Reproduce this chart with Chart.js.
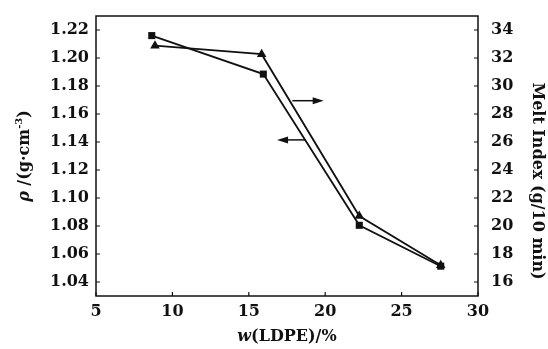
<!DOCTYPE html>
<html>
<head>
<meta charset="utf-8">
<script src="https://cdn.jsdelivr.net/npm/chart.js@4/dist/chart.umd.min.js"></script>
<style>
  html, body { margin: 0; padding: 0; background: #fff; }
  canvas { display: block; }
</style>
</head>
<body>
<canvas id="chart" width="548" height="349"></canvas>
<script>
// Data
const densityX = [8.65, 15.95, 22.23, 27.56];
const densityY = [1.216, 1.1885, 1.0805, 1.0513];
const meltX = [8.86, 15.84, 22.23, 27.56];
const meltY = [32.88, 32.27, 20.71, 17.2];

const xTicks = [5, 10, 15, 20, 25, 30];
const leftTicks = [1.04, 1.06, 1.08, 1.10, 1.12, 1.14, 1.16, 1.18, 1.20, 1.22];
const rightTicks = [16, 18, 20, 22, 24, 26, 28, 30, 32, 34];

// arrows pointing to the axis each curve belongs to (in left-axis units)
const arrows = [
    { from: 17.85, to: 19.9, y: 1.1695 },
    { from: 18.7, to: 16.85, y: 1.1415 }
];

const FONT = 'DejaVu Serif';
const INK = '#111';

function toPoints(xs, ys) {
    return xs.map((x, i) => ({ x: x, y: ys[i] }));
}

// Frame, inward ticks, arrows and axis titles
const decorPlugin = {
    id: 'decor',
    afterDraw(chart) {
        const ctx = chart.ctx;
        const area = chart.chartArea;
        const sx = chart.scales.x;
        const sl = chart.scales.yL;
        const sr = chart.scales.yR;
        ctx.save();
        ctx.strokeStyle = INK;
        ctx.fillStyle = INK;

        // box
        ctx.lineWidth = 1.5;
        ctx.strokeRect(area.left, area.top, area.right - area.left, area.bottom - area.top);

        // ticks inside
        ctx.lineWidth = 1.2;
        ctx.beginPath();
        xTicks.forEach(v => {
            const px = sx.getPixelForValue(v);
            ctx.moveTo(px, area.bottom);
            ctx.lineTo(px, area.bottom - 4);
        });
        leftTicks.forEach(v => {
            const py = sl.getPixelForValue(v);
            ctx.moveTo(area.left, py);
            ctx.lineTo(area.left + 4, py);
        });
        rightTicks.forEach(v => {
            const py = sr.getPixelForValue(v);
            ctx.moveTo(area.right, py);
            ctx.lineTo(area.right - 4, py);
        });
        ctx.stroke();

        // arrows
        arrows.forEach(a => {
            const x0 = sx.getPixelForValue(a.from);
            const x1 = sx.getPixelForValue(a.to);
            const y = sl.getPixelForValue(a.y);
            const dir = x1 > x0 ? 1 : -1;
            ctx.lineWidth = 1.5;
            ctx.beginPath();
            ctx.moveTo(x0, y);
            ctx.lineTo(x1 - dir * 8, y);
            ctx.stroke();
            ctx.beginPath();
            ctx.moveTo(x1, y);
            ctx.lineTo(x1 - dir * 11, y - 3.5);
            ctx.lineTo(x1 - dir * 11, y + 3.5);
            ctx.closePath();
            ctx.fill();
        });

        // x title
        const bold = 'bold 16px "' + FONT + '"';
        const boldIt = 'italic bold 16px "' + FONT + '"';
        ctx.textBaseline = 'middle';
        ctx.textAlign = 'left';
        const xParts = [['w', boldIt], ['(LDPE)/%', bold]];
        drawParts(ctx, xParts, (area.left + area.right) / 2, 337, 0);

        // left title
        const supFont = 'bold 10px "' + FONT + '"';
        const lParts = [['\u03C1', boldIt], [' /(g\u00B7cm', bold], ['-3', supFont, -6], [')', bold]];
        drawParts(ctx, lParts, 25, (area.top + area.bottom) / 2, -Math.PI / 2);

        // right title
        drawParts(ctx, [['Melt Index (g/10 min)', bold]], 537, 181, Math.PI / 2);

        ctx.restore();
    }
};

function drawParts(ctx, parts, cx, cy, rot) {
    let total = 0;
    parts.forEach(p => { ctx.font = p[1]; total += ctx.measureText(p[0]).width; });
    ctx.save();
    ctx.translate(cx, cy);
    ctx.rotate(rot);
    let x = -total / 2;
    parts.forEach(p => {
        ctx.font = p[1];
        ctx.fillText(p[0], x, p[2] || 0);
        x += ctx.measureText(p[0]).width;
    });
    ctx.restore();
}

function noPad(s) {
    s.paddingTop = 0;
    s.paddingBottom = 0;
    s.paddingLeft = 0;
    s.paddingRight = 0;
}

const tickFont = { family: FONT, size: 16, weight: 'bold' };

new Chart(document.getElementById('chart'), {
    type: 'scatter',
    data: {
        datasets: [
            {
                label: 'density',
                data: toPoints(densityX, densityY),
                yAxisID: 'yL',
                showLine: true,
                borderColor: INK,
                backgroundColor: INK,
                borderWidth: 1.8,
                pointStyle: 'rect',
                pointRadius: 5,
                pointBorderWidth: 0,
                pointBackgroundColor: INK
            },
            {
                label: 'melt index',
                data: toPoints(meltX, meltY),
                yAxisID: 'yR',
                showLine: true,
                borderColor: INK,
                backgroundColor: INK,
                borderWidth: 1.8,
                pointStyle: 'triangle',
                pointRadius: 5.5,
                pointBorderWidth: 0,
                pointBackgroundColor: INK
            }
        ]
    },
    options: {
        responsive: false,
        animation: false,
        layout: { padding: { top: 16, left: 0, right: 0, bottom: 0 } },
        plugins: {
            legend: { display: false },
            tooltip: { enabled: false }
        },
        scales: {
            x: {
                type: 'linear',
                min: 5,
                max: 30,
                afterBuildTicks: s => { s.ticks = xTicks.map(v => ({ value: v })); },
                afterFit: s => { s.height = 53; noPad(s); },
                grid: { display: false, drawTicks: false },
                border: { display: false },
                ticks: { font: tickFont, color: INK, padding: 6, maxRotation: 0 }
            },
            yL: {
                type: 'linear',
                position: 'left',
                min: 1.03,
                max: 1.23,
                afterBuildTicks: s => { s.ticks = leftTicks.map(v => ({ value: v })); },
                afterFit: s => { s.width = 96; noPad(s); },
                grid: { display: false, drawTicks: false },
                border: { display: false },
                ticks: { font: tickFont, color: INK, padding: 7, callback: v => v.toFixed(2) }
            },
            yR: {
                type: 'linear',
                position: 'right',
                min: 15,
                max: 35,
                afterBuildTicks: s => { s.ticks = rightTicks.map(v => ({ value: v })); },
                afterFit: s => { s.width = 70; noPad(s); },
                grid: { display: false, drawTicks: false },
                border: { display: false },
                ticks: { font: tickFont, color: INK, padding: 13 }
            }
        }
    },
    plugins: [decorPlugin]
});
</script>
</body>
</html>
